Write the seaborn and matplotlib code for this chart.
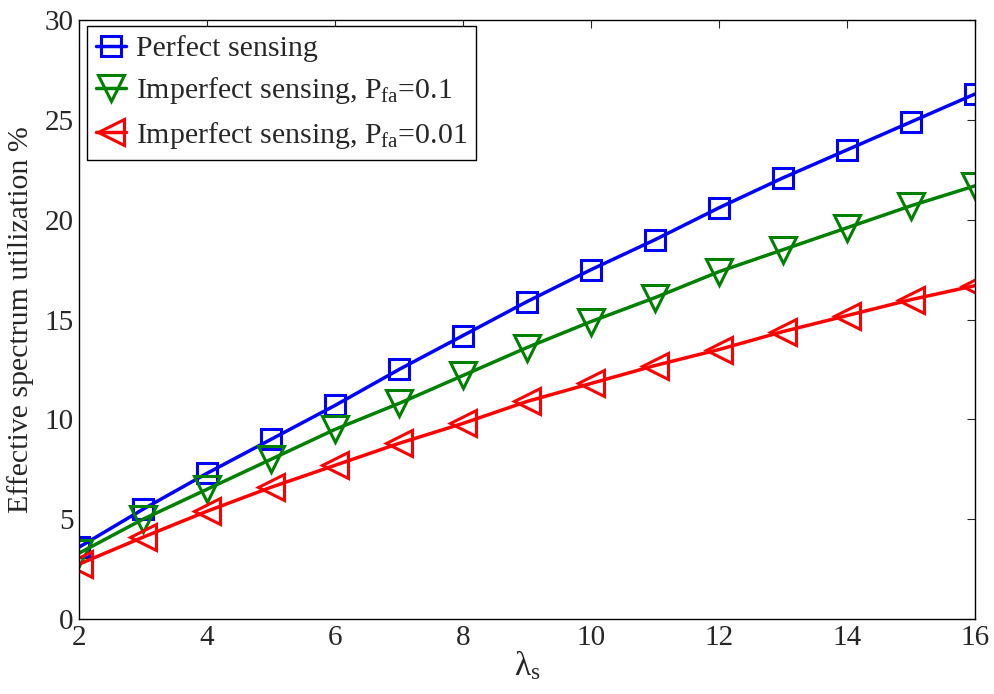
import matplotlib
matplotlib.use("Agg")
import matplotlib.pyplot as plt
import seaborn as sns
import pandas as pd

lambda_s = [2, 3, 4, 5, 6, 7, 8, 9, 10, 11, 12, 13, 14, 15, 16]
perfect = [3.6, 5.5, 7.3, 9.0, 10.7, 12.5, 14.2, 15.9, 17.5, 19.0, 20.6, 22.1, 23.5, 24.9, 26.3]
imperfect_01 = [3.3, 5.0, 6.5, 8.0, 9.5, 10.8, 12.2, 13.6, 14.9, 16.1, 17.4, 18.5, 19.6, 20.7, 21.7]
imperfect_001 = [2.75, 4.1, 5.4, 6.6, 7.7, 8.8, 9.8, 10.9, 11.8, 12.7, 13.5, 14.4, 15.2, 16.0, 16.7]

labels = ["Perfect sensing",
          r"Imperfect sensing, P$_{\mathrm{fa}}$=0.1",
          r"Imperfect sensing, P$_{\mathrm{fa}}$=0.01"]
colors = ["#0000ff", "#008000", "#ff0000"]
markers = ["s", "v", "<"]
msizes = [15, 19, 19]

sns.set_style("white")
plt.rcParams["font.family"] = ["Liberation Serif", "DejaVu Serif"]
plt.rcParams["mathtext.fontset"] = "custom"
plt.rcParams["mathtext.rm"] = "Liberation Serif"
plt.rcParams["mathtext.it"] = "Liberation Serif"

df = pd.DataFrame({
    "x": lambda_s * 3,
    "y": perfect + imperfect_01 + imperfect_001,
    "series": [labels[0]] * 15 + [labels[1]] * 15 + [labels[2]] * 15,
})

fig = plt.figure(figsize=(9.95, 6.94), dpi=100)
ax = fig.add_axes([0.0794, 0.108, 0.9005, 0.863])

for lab, c, m, ms in zip(labels, colors, markers, msizes):
    sub = df[df["series"] == lab]
    sns.lineplot(data=sub, x="x", y="y", ax=ax, color=c, marker=m,
                 markersize=ms, markerfacecolor="none", markeredgecolor=c,
                 markeredgewidth=2.2, linewidth=2.5, label=lab)

ax.set_xlim(2, 16)
ax.set_ylim(0, 30)
ax.set_xticks(range(2, 17, 2))
ax.set_yticks(range(0, 31, 5))
ax.tick_params(direction="in", top=True, right=True, labelsize=21, length=6, width=0.8, pad=4)
for s in ax.spines.values():
    s.set_linewidth(1.0)
    s.set_color("black")
ax.set_xlabel(r"$\lambda_{\mathrm{s}}$", fontsize=24, labelpad=-1)
ax.set_ylabel("Effective spectrum utilization %", fontsize=21.5, labelpad=7)

leg = ax.legend(loc="upper left", bbox_to_anchor=(0.0089, 0.990), borderaxespad=0,
                fontsize=21.5, frameon=True, fancybox=False,
                edgecolor="black", framealpha=1, borderpad=0.3, labelspacing=0.45,
                handlelength=1.0, handletextpad=0.35)
leg.get_frame().set_linewidth(1.0)

fig.savefig("out.png", dpi=100)
